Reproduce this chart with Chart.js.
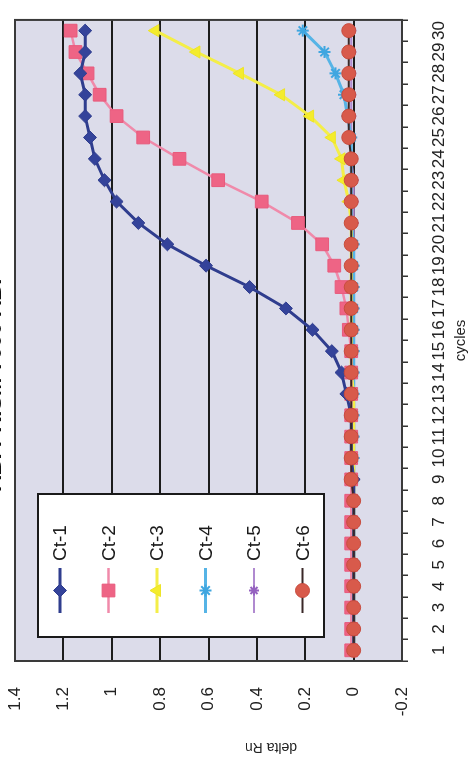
<!DOCTYPE html>
<html>
<head>
<meta charset="utf-8">
<script src="https://cdn.jsdelivr.net/npm/chart.js@4.4.1/dist/chart.umd.min.js"></script>
<style>
    html, body { margin: 0; padding: 0; background: #fff; overflow: hidden; }
    body { width: 471px; height: 762px; position: relative; }
    /* o gráfico original foi fotografado girado 90° para a esquerda */
    #graficoCiclos {
        position: absolute; left: 0; top: 0;
        width: 762px; height: 500px;
        transform-origin: 0 0;
        transform: translate(-29px, 762px) rotate(-90deg);
    }
</style>
</head>
<body>
<canvas id="graficoCiclos" width="762" height="500"></canvas>
<script>
// Dados
const ciclos = ['1','2','3','4','5','6','7','8','9','10','11','12','13','14','15',
                '16','17','18','19','20','21','22','23','24','25','26','27','28','29','30'];

const nomesSeries = ['Ct-1', 'Ct-2', 'Ct-3', 'Ct-4', 'Ct-5', 'Ct-6'];

const ct1 = [0, 0, 0, 0, 0, 0, 0, 0, 0, 0.01, 0.01, 0.01, 0.03, 0.05, 0.09,
             0.17, 0.28, 0.43, 0.61, 0.77, 0.89, 0.98, 1.03, 1.07, 1.09, 1.11, 1.11, 1.13, 1.11, 1.11];
const ct2 = [0.01, 0.01, 0.01, 0.01, 0.01, 0.01, 0.01, 0.01, 0.01, 0.01, 0.01, 0.01, 0.01, 0.01, 0.01,
             0.02, 0.03, 0.05, 0.08, 0.13, 0.23, 0.38, 0.56, 0.72, 0.87, 0.98, 1.05, 1.10, 1.15, 1.17];
const ct3 = [0, 0, 0, 0, 0, 0, 0, 0, 0, 0, 0, 0, 0, 0.01, 0.01,
             0.01, 0.01, 0.01, 0.01, 0.01, 0.01, 0.02, 0.04, 0.05, 0.09, 0.18, 0.30, 0.47, 0.65, 0.82];
const ct4 = [0, 0, 0, 0, 0, 0, 0, 0, 0, 0, 0, 0, 0, 0, 0,
             0, 0, 0, 0, 0, 0.01, 0.01, 0.01, 0.01, 0.01, 0.025, 0.04, 0.075, 0.12, 0.21];
const ct5 = [0, 0, 0, 0, 0, 0, 0, 0, 0, 0, 0, 0, 0, 0, 0,
             0, 0, 0, 0, 0, 0, 0, 0, 0.01, 0.01, 0.01, 0.01, 0.01, 0.01, 0.01];
const ct6 = [0, 0, 0, 0, 0, 0, 0, 0, 0.01, 0.01, 0.01, 0.01, 0.01, 0.01, 0.01,
             0.01, 0.01, 0.01, 0.01, 0.01, 0.01, 0.01, 0.01, 0.01, 0.02, 0.02, 0.02, 0.02, 0.02, 0.02];

const rotulosDelta = ['-0.2', '0', '0.2', '0.4', '0.6', '0.8', '1', '1.2', '1.4'];

const fonte = "'Liberation Sans', Arial, sans-serif";

/* ------------------------------------------------------------------ */
/*                          SÉRIES E ESTILOS                          */
/* ------------------------------------------------------------------ */

function serie(indice, dados, estilo) {
    return Object.assign({
        label: nomesSeries[indice],
        data: dados,
        tension: 0,
        pointBorderWidth: 1
    }, estilo);
}

const series = [
    serie(0, ct1, { borderColor: '#2f3d8e', borderWidth: 3, pointStyle: 'rectRot', pointRadius: 6.5,
                    pointBackgroundColor: '#34439a', pointBorderColor: '#2f3d8e', order: 1 }),
    serie(1, ct2, { borderColor: '#f08aaa', borderWidth: 2.5, pointStyle: 'rect', pointRadius: 9,
                    pointBackgroundColor: '#ee6485', pointBorderColor: '#e85a7c', order: 2 }),
    serie(2, ct3, { borderColor: '#f4ee48', borderWidth: 3, pointStyle: 'triangle', pointRadius: 7,
                    pointBackgroundColor: '#f4ec2c', pointBorderColor: '#ede428', order: 3 }),
    serie(3, ct4, { borderColor: '#56b4e6', borderWidth: 3, pointStyle: 'star', pointRadius: 6,
                    pointBackgroundColor: '#3fa6e0', pointBorderColor: '#3fa6e0', pointBorderWidth: 2, order: 4 }),
    serie(4, ct5, { borderColor: '#b08ad0', borderWidth: 2, pointStyle: 'star', pointRadius: 5,
                    pointBackgroundColor: '#9562c0', pointBorderColor: '#9562c0', pointBorderWidth: 2, order: 5 }),
    serie(5, ct6, { borderColor: '#3a2828', borderWidth: 2, pointStyle: 'circle', pointRadius: 7,
                    pointBackgroundColor: '#d85a4b', pointBorderColor: '#c84c3e', order: 0 })
];

/* ------------------------------------------------------------------ */
/*        PLUGIN: FUNDO, MOLDURA, LEGENDA E TÍTULO DO EIXO Y          */
/* ------------------------------------------------------------------ */

function desenharMarcador(ctx, ds, x, y) {
    ctx.fillStyle = ds.pointBackgroundColor;
    ctx.strokeStyle = ds.pointBorderColor;
    ctx.lineWidth = ds.pointBorderWidth;
    if (Chart.helpers && Chart.helpers.drawPoint) {
        Chart.helpers.drawPoint(ctx, {
            pointStyle: ds.pointStyle, radius: ds.pointRadius, rotation: 0, borderWidth: ds.pointBorderWidth
        }, x, y);
    } else {
        ctx.beginPath();
        ctx.arc(x, y, ds.pointRadius, 0, Math.PI * 2);
        ctx.fill();
    }
}

const extras = {
    id: 'extras',
    beforeDraw(chart) {
        const { ctx, chartArea: a } = chart;
        ctx.save();
        ctx.fillStyle = '#dcdcea';
        ctx.fillRect(a.left, a.top, a.width, a.height);
        ctx.restore();
    },
    beforeDatasetsDraw(chart) {
        const { ctx, chartArea: a } = chart;
        ctx.save();
        ctx.strokeStyle = '#3a3a3a';
        ctx.lineWidth = 2;
        ctx.strokeRect(a.left, a.top, a.width, a.height);
        ctx.restore();
    },
    afterDraw(chart) {
        const ctx = chart.ctx;
        ctx.save();

        // legenda dentro da área do gráfico
        const caixa = { x: 125, y: 67, w: 143, h: 286 };
        ctx.fillStyle = '#ffffff';
        ctx.fillRect(caixa.x, caixa.y, caixa.w, caixa.h);
        ctx.strokeStyle = '#1a1a1a';
        ctx.lineWidth = 2;
        ctx.strokeRect(caixa.x, caixa.y, caixa.w, caixa.h);

        chart.data.datasets.forEach((ds, i) => {
            const y = caixa.y + 22 + i * 48.5;
            ctx.strokeStyle = ds.borderColor;
            ctx.lineWidth = ds.borderWidth;
            ctx.beginPath();
            ctx.moveTo(149, y);
            ctx.lineTo(194, y);
            ctx.stroke();
            desenharMarcador(ctx, ds, 171.5, y);

            ctx.fillStyle = '#1a1a1a';
            ctx.font = '19px ' + fonte;
            ctx.textAlign = 'left';
            ctx.textBaseline = 'middle';
            ctx.fillText(ds.label, 201, y + 1);
        });

        // título do eixo de valores
        ctx.translate(15, 300);
        ctx.rotate(-Math.PI / 2);
        ctx.fillStyle = '#222';
        ctx.font = '14px ' + fonte;
        ctx.textAlign = 'center';
        ctx.textBaseline = 'middle';
        ctx.fillText('delta Rn', 0, 0);

        ctx.restore();
    }
};

/* ------------------------------------------------------------------ */
/*                              GRÁFICO                               */
/* ------------------------------------------------------------------ */

const ctx = document.getElementById('graficoCiclos').getContext('2d');

new Chart(ctx, {
    type: 'line',
    data: { labels: ciclos, datasets: series },
    plugins: [extras],
    options: {
        responsive: false,
        animation: false,
        layout: { padding: { left: 0, right: 8, top: 0, bottom: 0 } },
        plugins: {
            legend: { display: false },
            tooltip: { enabled: false },
            title: {
                display: true,
                text: 'ABI PRISM 7000 ABI',
                color: '#111',
                font: { family: fonte, size: 22, weight: 'bold' },
                padding: { top: 10.8, bottom: 6.8 }
            }
        },
        scales: {
            x: {
                offset: true,
                afterFit: s => { s.height = 69; },
                grid: { offset: true, drawOnChartArea: false, drawTicks: true, tickLength: 6,
                        color: '#333', lineWidth: 1.5 },
                border: { display: false },
                ticks: { autoSkip: false, maxRotation: 0, minRotation: 0, padding: 21,
                         color: '#222', font: { family: fonte, size: 17 } },
                title: { display: true, text: 'cycles', color: '#222',
                         font: { family: fonte, size: 15 }, padding: { top: 2, bottom: 1 } }
            },
            y: {
                min: -0.2,
                max: 1.4,
                afterFit: s => { s.width = 101; },
                grid: { drawTicks: false, color: '#1c1c1c', lineWidth: 2 },
                border: { display: false },
                ticks: {
                    stepSize: 0.2,
                    padding: 26,
                    color: '#222',
                    font: { family: fonte, size: 17 },
                    callback: (valor, i) => rotulosDelta[i]
                }
            }
        }
    }
});
</script>
</body>
</html>
